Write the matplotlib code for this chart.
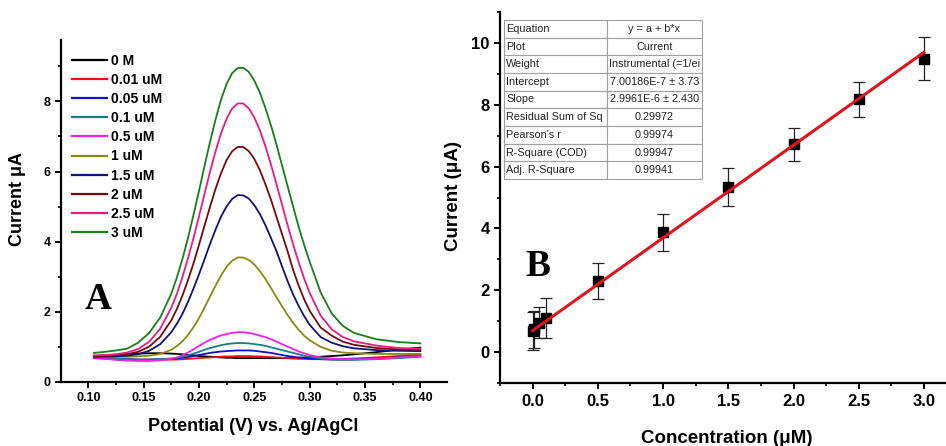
import matplotlib
matplotlib.use("Agg")
import matplotlib.pyplot as plt
from matplotlib.ticker import MultipleLocator, FormatStrFormatter

plt.rcParams['font.family'] = ['Liberation Sans', 'DejaVu Sans']

# ---------------- Panel A data (DPV curves) ----------------
potential = [0.105, 0.115, 0.125, 0.135, 0.145, 0.155, 0.165, 0.175,
             0.18, 0.185, 0.19, 0.195, 0.20, 0.205, 0.21, 0.215, 0.22, 0.225,
             0.23, 0.235, 0.24, 0.245, 0.25, 0.255, 0.26, 0.265, 0.27, 0.275,
             0.28, 0.285, 0.29, 0.295, 0.30, 0.31, 0.32, 0.33, 0.34, 0.36, 0.38, 0.40]

labels_A = ['0 M', '0.01 uM', '0.05 uM', '0.1 uM', '0.5 uM', '1 uM',
            '1.5 uM', '2 uM', '2.5 uM', '3 uM']
colors_A = ['#000000', '#ee1111', '#1111cc', '#138080', '#ee22ee', '#8a8a12',
            '#12127a', '#7a0a0a', '#ee1a80', '#168016']

i_0M = [0.74, 0.76, 0.78, 0.80, 0.81, 0.82, 0.82, 0.81, 0.80, 0.79, 0.77, 0.76,
        0.74, 0.73, 0.72, 0.71, 0.70, 0.69, 0.69, 0.68, 0.68, 0.68, 0.68, 0.68,
        0.68, 0.68, 0.68, 0.68, 0.68, 0.69, 0.69, 0.70, 0.70, 0.72, 0.74, 0.76,
        0.79, 0.85, 0.92, 0.98]
i_001 = [0.68, 0.66, 0.65, 0.64, 0.63, 0.63, 0.63, 0.64, 0.64, 0.65, 0.66, 0.67,
         0.68, 0.69, 0.70, 0.71, 0.72, 0.73, 0.73, 0.74, 0.74, 0.74, 0.73, 0.73,
         0.72, 0.71, 0.70, 0.69, 0.68, 0.67, 0.66, 0.66, 0.65, 0.65, 0.65, 0.66,
         0.67, 0.70, 0.74, 0.80]
i_005 = [0.70, 0.68, 0.66, 0.65, 0.64, 0.64, 0.65, 0.66, 0.67, 0.69, 0.71, 0.74,
         0.77, 0.80, 0.83, 0.85, 0.87, 0.88, 0.89, 0.90, 0.90, 0.90, 0.89, 0.87,
         0.85, 0.83, 0.80, 0.77, 0.74, 0.72, 0.70, 0.68, 0.67, 0.65, 0.64, 0.64,
         0.65, 0.67, 0.70, 0.75]
i_01 = [0.72, 0.69, 0.67, 0.65, 0.64, 0.64, 0.65, 0.67, 0.69, 0.72, 0.76, 0.81,
        0.86, 0.92, 0.97, 1.01, 1.05, 1.08, 1.10, 1.11, 1.11, 1.10, 1.08, 1.06,
        1.03, 0.99, 0.95, 0.91, 0.87, 0.83, 0.79, 0.75, 0.72, 0.67, 0.64, 0.63,
        0.63, 0.65, 0.68, 0.72]
i_05 = [0.70, 0.66, 0.63, 0.61, 0.60, 0.60, 0.62, 0.66, 0.70, 0.76, 0.84, 0.93,
        1.03, 1.12, 1.20, 1.27, 1.33, 1.37, 1.40, 1.42, 1.42, 1.40, 1.37, 1.32,
        1.28, 1.22, 1.15, 1.08, 1.01, 0.94, 0.87, 0.82, 0.77, 0.70, 0.67, 0.65,
        0.65, 0.66, 0.70, 0.74]
i_1 = [0.72, 0.72, 0.72, 0.72, 0.73, 0.75, 0.80, 0.92, 1.02, 1.16, 1.34, 1.56,
       1.82, 2.12, 2.44, 2.75, 3.04, 3.29, 3.46, 3.55, 3.55, 3.48, 3.35, 3.16,
       2.94, 2.68, 2.42, 2.16, 1.91, 1.69, 1.49, 1.32, 1.19, 1.00, 0.89, 0.84,
       0.82, 0.80, 0.80, 0.80]
i_15 = [0.72, 0.72, 0.73, 0.75, 0.79, 0.89, 1.08, 1.42, 1.66, 1.94, 2.28, 2.66,
        3.07, 3.50, 3.94, 4.35, 4.72, 5.01, 5.22, 5.33, 5.32, 5.23, 5.04, 4.79,
        4.47, 4.11, 3.73, 3.30, 2.88, 2.50, 2.17, 1.88, 1.63, 1.28, 1.12, 1.02,
        0.96, 0.91, 0.89, 0.88]
i_2 = [0.74, 0.75, 0.76, 0.79, 0.86, 1.01, 1.29, 1.76, 2.08, 2.46, 2.90, 3.38,
       3.91, 4.46, 5.00, 5.51, 5.96, 6.33, 6.58, 6.70, 6.70, 6.58, 6.36, 6.04,
       5.64, 5.20, 4.71, 4.22, 3.73, 3.20, 2.75, 2.36, 2.03, 1.55, 1.32, 1.15,
       1.06, 0.97, 0.93, 0.92]
i_25 = [0.76, 0.77, 0.79, 0.84, 0.94, 1.15, 1.52, 2.12, 2.51, 2.99, 3.52, 4.10,
        4.72, 5.36, 6.00, 6.58, 7.10, 7.51, 7.80, 7.94, 7.94, 7.80, 7.54, 7.18,
        6.72, 6.20, 5.64, 5.06, 4.48, 3.93, 3.42, 2.95, 2.54, 1.89, 1.50, 1.28,
        1.16, 1.04, 0.97, 0.95]
i_3 = [0.83, 0.86, 0.90, 0.95, 1.12, 1.40, 1.84, 2.52, 2.98, 3.50, 4.10, 4.76,
       5.45, 6.16, 6.85, 7.49, 8.06, 8.50, 8.81, 8.95, 8.96, 8.84, 8.59, 8.25,
       7.81, 7.32, 6.77, 6.18, 5.59, 5.01, 4.43, 3.91, 3.43, 2.55, 1.95, 1.60,
       1.40, 1.22, 1.14, 1.10]
currents_A = [i_0M, i_001, i_005, i_01, i_05, i_1, i_15, i_2, i_25, i_3]

# ---------------- Panel B data (calibration) ----------------
conc = [0.0, 0.01, 0.05, 0.1, 0.5, 1.0, 1.5, 2.0, 2.5, 3.0]
peak_current = [0.68, 0.75, 0.95, 1.11, 2.29, 3.87, 5.35, 6.72, 8.17, 9.48]
peak_err = [0.61, 0.60, 0.50, 0.65, 0.58, 0.61, 0.61, 0.53, 0.56, 0.69]
fit_intercept = 0.700186
fit_slope = 2.9961
fit_range = [0.0, 3.0]

table_keys = ['Equation', 'Plot', 'Weight', 'Intercept', 'Slope',
              'Residual Sum of Sq', "Pearson's r", 'R-Square (COD)', 'Adj. R-Square']
table_vals = ['y = a + b*x', 'Current', 'Instrumental (=1/ei', '7.00186E-7 \u00b1 3.73',
              '2.9961E-6 \u00b1 2.430', '0.29972', '0.99974', '0.99947', '0.99941']

# ---------------- Figure ----------------
fig = plt.figure(figsize=(9.46, 4.46), dpi=100)

def style_axes(ax, tsize):
    for s in ['top', 'right']:
        ax.spines[s].set_visible(False)
    for s in ['left', 'bottom']:
        ax.spines[s].set_linewidth(1.6)
    ax.tick_params(which='major', direction='out', length=4.5, width=1.4,
                   labelsize=tsize, pad=3)
    ax.tick_params(which='minor', direction='out', length=2.5, width=1.2)
    for lab in ax.get_xticklabels() + ax.get_yticklabels():
        lab.set_fontweight('bold')

# Panel A
axA = fig.add_axes([61/946, 1 - 382/446, 386/946, 342/446])
for cur, lab, col in zip(currents_A, labels_A, colors_A):
    axA.plot(potential, cur, color=col, lw=1.3, label=lab)
axA.set_xlim(0.0753, 0.4241)
axA.set_ylim(0, 9.75)
axA.xaxis.set_major_locator(MultipleLocator(0.05))
axA.xaxis.set_minor_locator(MultipleLocator(0.025))
axA.xaxis.set_major_formatter(FormatStrFormatter('%.2f'))
axA.yaxis.set_major_locator(MultipleLocator(2))
axA.yaxis.set_minor_locator(MultipleLocator(1))
style_axes(axA, 9)
axA.set_xlabel('Potential (V) vs. Ag/AgCl', fontsize=13, fontweight='bold')
axA.set_ylabel('Current \u03bcA', fontsize=13, fontweight='bold')
axA.xaxis.set_label_coords(0.497, -0.105)
axA.yaxis.set_label_coords(-0.09, 0.535)
leg = axA.legend(loc='upper left', bbox_to_anchor=(0.028, 0.96), frameon=False,
                 borderpad=0, borderaxespad=0, handlelength=2.5, handletextpad=0.3,
                 labelspacing=0.37, prop={'weight': 'bold', 'size': 10})
for h in leg.get_lines():
    h.set_linewidth(1.6)
axA.text(0.096, 0.24, 'A', transform=axA.transAxes, fontsize=27, fontweight='bold',
         family='Liberation Serif', ha='center', va='center')

# Panel B
axB = fig.add_axes([500/946, 1 - 383.3/446, 456.6/946, 371.6/446])
axB.errorbar(conc, peak_current, yerr=peak_err, fmt='s', color='black', ms=7,
             ecolor='#222222', elinewidth=0.9, capsize=4, capthick=0.9, zorder=3)
fit_y = [fit_intercept + fit_slope * x for x in fit_range]
axB.plot(fit_range, fit_y, color='#e0141c', lw=2.2, zorder=4)
axB.set_xlim(-0.25, 3.25)
axB.set_ylim(-1, 11)
axB.xaxis.set_major_locator(MultipleLocator(0.5))
axB.xaxis.set_minor_locator(MultipleLocator(0.25))
axB.xaxis.set_major_formatter(FormatStrFormatter('%.1f'))
axB.yaxis.set_major_locator(MultipleLocator(2))
axB.yaxis.set_minor_locator(MultipleLocator(1))
style_axes(axB, 12)
axB.set_xlabel('Concentration (\u03bcM)', fontsize=13.5, fontweight='bold')
axB.set_ylabel('Current (\u03bcA)', fontsize=13.5, fontweight='bold')
axB.xaxis.set_label_coords(0.497, -0.125)
axB.yaxis.set_label_coords(-0.083, 0.505)
axB.text(0.083, 0.313, 'B', transform=axB.transAxes, fontsize=27, fontweight='bold',
         family='Liberation Serif', ha='center', va='center')

x0 = (504 - 500) / 456.6
x1 = (702 - 500) / 456.6
y0 = (383.3 - 179) / 371.6
y1 = (383.3 - 20) / 371.6
tbl = axB.table(cellText=[[k, v] for k, v in zip(table_keys, table_vals)],
                colWidths=[0.52, 0.48], bbox=[x0, y0, x1 - x0, y1 - y0], zorder=5)
tbl.auto_set_font_size(False)
for (r, c), cell in tbl.get_celld().items():
    cell.set_edgecolor('#a0a0a0')
    cell.set_linewidth(0.8)
    cell.set_facecolor('white')
    cell.PAD = 0.02
    txt = cell.get_text()
    txt.set_horizontalalignment('left' if c == 0 else 'center')
    txt.set_fontsize(7.8)
    txt.set_color('#222222')

fig.savefig('out.png', dpi=100)
